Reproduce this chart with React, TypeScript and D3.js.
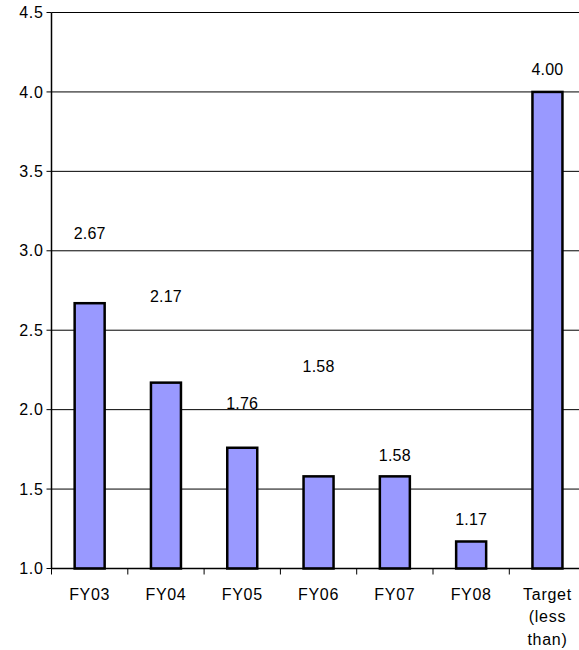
import React from "react";
import * as d3 from "d3";

const categories: string[][] = [["FY03"], ["FY04"], ["FY05"], ["FY06"], ["FY07"], ["FY08"], ["Target", "(less", "than)"]];
const values: number[] = [2.67, 2.17, 1.76, 1.58, 1.58, 1.17, 4.0];
const valueLabels: string[] = ["2.67", "2.17", "1.76", "1.58", "1.58", "1.17", "4.00"];
// vertical position (in axis units) at which each data label sits in the original
const labelAt: number[] = [3.11, 2.71, 2.04, 2.27, 1.71, 1.31, 4.14];
const yTicks: number[] = [1.0, 1.5, 2.0, 2.5, 3.0, 3.5, 4.0, 4.5];

const W = 579;
const H = 650;
const left = 51.5;
const step = 76.3;
const top = 12.5;
const bottom = 568.5;
const FONT = "'Liberation Sans', Arial, sans-serif";

export default function App() {
  const x = d3
    .scaleBand<number>()
    .domain(d3.range(categories.length))
    .range([left, left + step * categories.length])
    .paddingInner(0)
    .paddingOuter(0);
  const y = d3.scaleLinear().domain([1, 4.5]).range([bottom, top]);
  const bw = 30;
  const fs = 16;
  const ls = 0.7;

  return (
    <svg width={W} height={H} style={{ display: "block", position: "absolute", left: 0, top: 0, background: "#fff" }}>
      <rect x={0} y={0} width={W} height={H} fill="#fff" />
      {yTicks.map((t) => (
        <g key={t}>
          <line x1={left} x2={left + step * 7} y1={y(t)} y2={y(t)} stroke="#000" strokeWidth={1} />
          <line x1={left - 5} x2={left} y1={y(t)} y2={y(t)} stroke="#000" strokeWidth={1} />
          <text x={left - 8} y={y(t)} dy="0.35em" textAnchor="end" fontFamily={FONT} fontSize={fs} letterSpacing={ls} fill="#000">
            {d3.format(".1f")(t)}
          </text>
        </g>
      ))}
      {values.map((v, i) => {
        const cx = (x(i) as number) + x.bandwidth() / 2;
        return (
          <g key={i}>
            <rect x={cx - bw / 2} y={y(v)} width={bw} height={y(1) - y(v)} fill="#9999FF" stroke="#000" strokeWidth={2.5} />
            <text x={cx} y={y(labelAt[i])} dy="0.35em" textAnchor="middle" fontFamily={FONT} fontSize={fs} letterSpacing={0.2} fill="#000">
              {valueLabels[i]}
            </text>
          </g>
        );
      })}
      <line x1={left} x2={left} y1={top} y2={bottom + 0.5} stroke="#000" strokeWidth={1.5} />
      <line x1={left} x2={left + step * 7} y1={bottom} y2={bottom} stroke="#000" strokeWidth={1.5} />
      {d3.range(categories.length + 1).map((i) => (
        <line key={i} x1={left + i * step} x2={left + i * step} y1={bottom} y2={bottom + 6} stroke="#000" strokeWidth={1} />
      ))}
      {categories.map((lines, i) => {
        const cx = (x(i) as number) + x.bandwidth() / 2;
        return (
          <text key={i} x={cx} y={594} textAnchor="middle" fontFamily={FONT} fontSize={fs} letterSpacing={ls} fill="#000">
            {lines.map((l, j) => (
              <tspan key={j} x={cx} dy={j === 0 ? "0.35em" : 22.5}>
                {l}
              </tspan>
            ))}
          </text>
        );
      })}
    </svg>
  );
}
